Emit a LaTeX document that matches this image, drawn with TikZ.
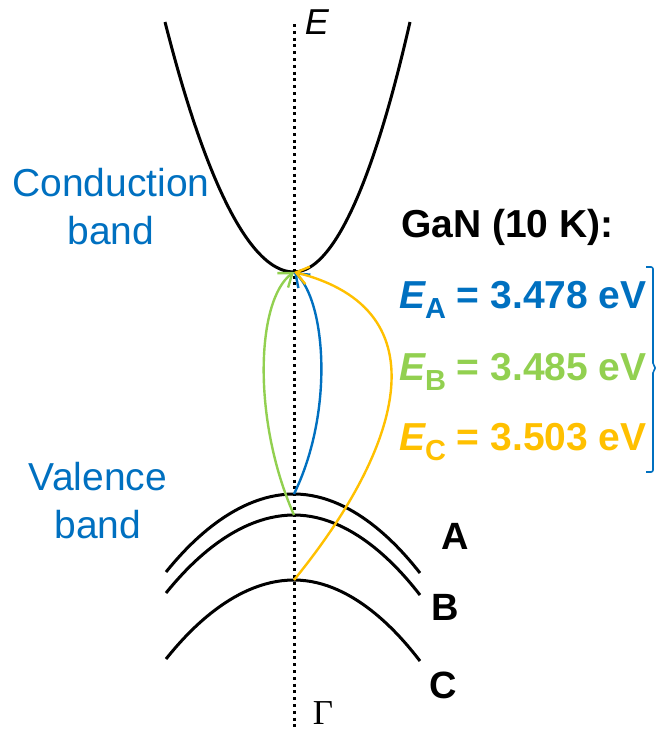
\documentclass[tikz,border=0pt]{standalone}
\usepackage{fontspec}
\setmainfont{Liberation Sans}
\newfontfamily\gammafont{Liberation Serif}
\usetikzlibrary{arrows.meta}
\definecolor{cbblue}{RGB}{0,112,192}
\definecolor{cbgreen}{RGB}{146,208,80}
\definecolor{cbgold}{RGB}{255,192,0}
\newcommand{\lowsub}[1]{\raisebox{-10pt}{\fontsize{29}{29}\selectfont #1}}
\tikzset{
    band/.style={line width=3pt},
    trans/.style={line width=2.4pt, -{Straight Barb[length=12pt,width=18pt]}},
    bandname/.style={inner sep=0pt, align=center, text=cbblue, font=\fontsize{39}{48}\selectfont},
    val/.style={inner sep=0pt, anchor=base west, font=\fontsize{39}{46}\selectfont\bfseries},
    vbname/.style={inner sep=0pt, font=\fontsize{38}{46}\selectfont\bfseries},
}

\begin{document}
\begin{tikzpicture}[x=1pt,y=-1pt]
        \useasboundingbox (0,0) rectangle (656,732);
        % axis
            \coordinate (top) at (294,24);
            \coordinate (bot) at (294,728);
            \draw[line width=3pt, dash pattern=on 3pt off 3.8pt] (top) -- (bot);
            \node[inner sep=0pt, font=\fontsize{36}{36}\selectfont\itshape] (E) at (317,22) {E};
            \node[inner sep=0pt, font=\fontsize{35}{35}\selectfont\gammafont] (G) at (323,713) {Γ};
        % bands
            \coordinate (cbm) at (294,272);
            \draw[band] (165,22) parabola bend (cbm) (410,22);
            \foreach \b/\t/\l/\r in {A/494/572/573,B/515/593/595,C/580/659/661}{
                \coordinate (vb\b) at (294,\t);
                \draw[band] (166,\l) parabola bend (vb\b) (420,\r);
            }
        % transitions
            \draw[trans, cbgreen] (vbB) .. controls (252,420) and (256,300) .. (cbm);
            \draw[trans, cbblue] (vbA) .. controls (335,410) and (325,300) .. (cbm);
            \draw[trans, cbgold] (vbC) .. controls (400,450) and (445,310) .. (cbm);
        % labels
            \node[bandname] (cblabel) at (111,207) {Conduction\\band};
            \node[bandname] (vblabel) at (98,501) {Valence\\band};
            \node[vbname] (lblA) at (455,536) {A};
            \node[vbname] (lblB) at (445,607) {B};
            \node[vbname] (lblC) at (443,685) {C};
            \node[val] (title) at (401,237) {GaN (10 K):};
            \node[val, text=cbblue] (EA) at (399,308) {\itshape E\upshape\lowsub{A} = 3.478 eV};
            \node[val, text=cbgreen] (EB) at (399,380) {\itshape E\upshape\lowsub{B} = 3.485 eV};
            \node[val, text=cbgold] (EC) at (399,450) {\itshape E\upshape\lowsub{C} = 3.503 eV};
            \draw[cbblue, line width=1.6pt, rounded corners=2pt] (646,267) -- (653,267) -- (653,365) -- (656,368) -- (653,371) -- (653,472) -- (646,472);
        \end{tikzpicture}
\end{document}
